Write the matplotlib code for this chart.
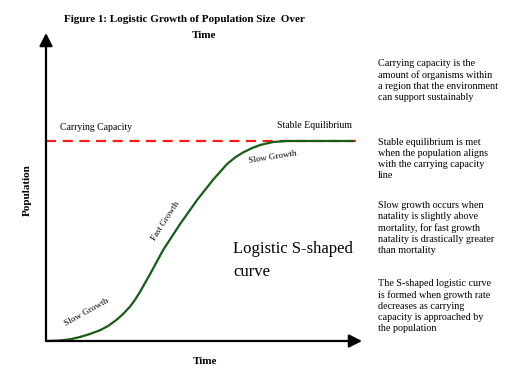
import matplotlib
matplotlib.use("Agg")
import matplotlib.pyplot as plt

# ---- data ----
time_vals = [0, 0.45, 0.78, 1.1, 1.42, 1.75, 2.02, 2.3, 2.5, 2.72, 2.88,
             3.04, 3.37, 3.79, 4.34, 4.89, 5.4, 5.86, 6.12, 6.38, 6.66,
             6.93, 7.35, 7.8, 9.94]
population_vals = [0, 0.25, 0.85, 2, 3.5, 5.4, 7.6, 10.8, 13.6, 17.2, 20.6,
                   24.5, 33.5, 45.5, 58.5, 70.5, 80.5, 88.5, 91.8, 94.3,
                   96.4, 98, 99.5, 100, 100]
carrying_capacity = 100
cc_x_range = [0, 10.05]

title_line1 = "Figure 1: Logistic Growth of Population Size  Over"
title_line2 = "Time"
x_label = "Time"
y_label = "Population"
cc_label = "Carrying Capacity"
stable_label = "Stable Equilibrium"
phase_labels = ["Slow Growth", "Fast Growth", "Slow Growth"]
curve_label = "Logistic S-shaped\ncurve"
side_notes = [
    "Carrying capacity is the\namount of organisms within\na region that the environment\ncan support sustainably",
    "Stable equilibrium is met\nwhen the population aligns\nwith the carrying capacity\nline",
    "Slow growth occurs when\nnatality is slightly above\nmortality, for fast growth\nnatality is drastically greater\nthan mortality",
    "The S-shaped logistic curve\nis formed when growth rate\ndecreases as carrying\ncapacity is approached by\nthe population",
]

W, H = 515, 378
plt.rcParams['font.family'] = ['Liberation Serif', 'DejaVu Serif']
fig = plt.figure(figsize=(W / 100, H / 100), dpi=100)
fig.patch.set_facecolor('white')

def fx(px):
    return px / W

def fy(py):
    return 1 - py / H

# axes: origin at px (46,341), x to 362, y to 33
x0, y0, x1, y1 = 46, 341, 362, 33
ax = fig.add_axes([fx(x0), fy(y0), (x1 - x0) / W, (y0 - y1) / H])
xmax = (x1 - x0) / 30.9
ymax = (y0 - y1) / 2.0
ax.set_xlim(0, xmax)
ax.set_ylim(0, ymax)
ax.axis('off')

# carrying capacity dashed line
ax.plot(cc_x_range, [carrying_capacity] * 2, color='#ff1a1a', lw=1.6,
        dashes=(4.5, 3), zorder=2)
# logistic curve
ax.plot(time_vals, population_vals, color='#155e15', lw=1.6,
        solid_joinstyle='round', solid_capstyle='round', antialiased=True,
        zorder=3)

# axis arrows
arrow_kw = dict(arrowstyle='-|>,head_length=0.55,head_width=0.28', lw=1.6,
                color='black', mutation_scale=14, shrinkA=0, shrinkB=0)
ax.annotate('', xy=(xmax, 0), xytext=(0, 0), arrowprops=arrow_kw,
            annotation_clip=False, zorder=5)
ax.annotate('', xy=(0, ymax), xytext=(0, 0), arrowprops=arrow_kw,
            annotation_clip=False, zorder=5)

# titles / labels
fig.text(fx(184), fy(19), title_line1, ha='center', va='center',
         fontsize=8, fontweight='bold')
fig.text(fx(204), fy(35), title_line2, ha='center', va='center',
         fontsize=8, fontweight='bold')
fig.text(fx(205), fy(362), x_label, ha='center', va='center',
         fontsize=8, fontweight='bold')
fig.text(fx(27), fy(190), y_label, ha='center', va='center',
         fontsize=8, fontweight='bold', rotation=90)

fig.text(fx(60), fy(128), cc_label, ha='left', va='center', fontsize=7)
fig.text(fx(277), fy(126), stable_label, ha='left', va='center', fontsize=7)

fig.text(fx(87), fy(312), phase_labels[0], ha='center', va='center',
         fontsize=6.6, rotation=29)
fig.text(fx(166), fy(221), phase_labels[1], ha='center', va='center',
         fontsize=6.5, rotation=57)
fig.text(fx(273), fy(157), phase_labels[2], ha='center', va='center',
         fontsize=6.5, rotation=9)

fig.text(fx(233), fy(241), curve_label, ha='left', va='top',
         fontsize=12, linespacing=1.55)

note_tops = [59, 138, 201, 279]
for top, note in zip(note_tops, side_notes):
    fig.text(fx(378), fy(top), note, ha='left', va='top', fontsize=7.3,
             linespacing=1.3)

fig.savefig('out.png', dpi=100, facecolor='white')
